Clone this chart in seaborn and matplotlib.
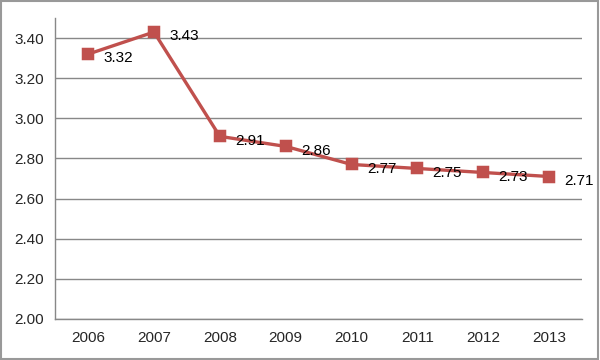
import matplotlib
matplotlib.use("Agg")
import matplotlib.pyplot as plt
import seaborn as sns
import numpy as np
import pandas as pd

years = ["2006", "2007", "2008", "2009", "2010", "2011", "2012", "2013"]
values = [3.32, 3.43, 2.91, 2.86, 2.77, 2.75, 2.73, 2.71]
y_ticks = [2.00, 2.20, 2.40, 2.60, 2.80, 3.00, 3.20, 3.40]

sns.set_style("white")
plt.rcParams['font.family'] = ['Liberation Sans', 'DejaVu Sans']

df = pd.DataFrame({"year": years, "value": values})
red = "#C0504D"

fig = plt.figure(figsize=(6, 3.6), dpi=100)
ax = fig.add_axes([0.092, 0.114, 0.878, 0.836])

sns.pointplot(data=df, x="year", y="value", color=red, markers="s",
              markersize=7, linewidth=2.4, ax=ax)

ax.set_ylim(2.0, 3.5)
ax.set_xlim(-0.5, len(years) - 0.5)
ax.set_yticks(y_ticks)
ax.set_yticklabels([f"{t:.2f}" for t in y_ticks], fontsize=11)
ax.set_xticks(range(len(years)))
ax.set_xticklabels(years, fontsize=11)
ax.tick_params(axis="x", which="major", length=0, pad=9)
ax.set_xticks(np.arange(-0.5, len(years), 1.0), minor=True)
ax.tick_params(axis="x", which="minor", length=4, color="#888888", width=1)
ax.tick_params(axis="y", length=4, color="#888888", width=1, pad=4)
ax.set_xlabel("")
ax.set_ylabel("")

ax.yaxis.grid(True, color="#888888", linewidth=1)
ax.set_axisbelow(True)
for s in ["top", "right"]:
    ax.spines[s].set_visible(False)
for s in ["left", "bottom"]:
    ax.spines[s].set_color("#888888")
    ax.spines[s].set_linewidth(1)

for i, v in enumerate(values):
    ax.annotate(f"{v:.2f}", (i, v), xytext=(11, -3), textcoords="offset points",
                fontsize=11, va="center", ha="left", color="black")

fig.patches.append(plt.Rectangle((0.002, 0.003), 0.995, 0.994, transform=fig.transFigure,
                                 fill=False, edgecolor="#999999", linewidth=1.5))

fig.savefig("out.png", dpi=100)
